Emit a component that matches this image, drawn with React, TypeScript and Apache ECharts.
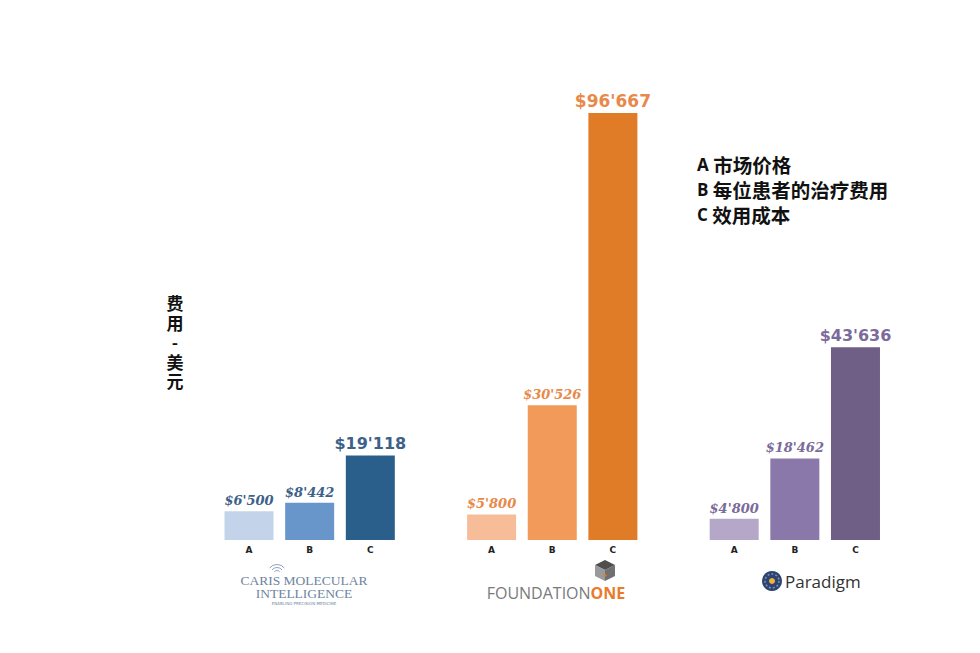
import React, { useEffect, useRef } from 'react';
import * as echarts from 'echarts';

// categories: three groups of A/B/C with empty gap slots between them
const categories = ['A', 'B', 'C', '', 'A', 'B', 'C', '', 'A', 'B', 'C'];
const carisValues = [6500, 8442, 19118];
const foundationValues = [5800, 30526, 96667];
const paradigmValues = [4800, 18462, 43636];

const carisColors = ['#c3d4ea', '#6896cb', '#2b5f8b'];
const foundationColors = ['#f7bd98', '#f19a5a', '#e07b27'];
const paradigmColors = ['#b4a7c8', '#8b78aa', '#6f5f87'];
const labelColors = ['#3d6189', '#e8894a', '#7a6b9a'];
const bigLabelSizes = [16, 17, 16];

const legendKeys = ['A', 'B', 'C'];
const legendNames = ['市场价格', '每位患者的治疗费用', '效用成本'];
const yTitle = '费用-美元';

const fmt = (v: number) => `$${Math.floor(v / 1000)}'${String(v % 1000).padStart(3, '0')}`;

const buildItems = (values: number[], colors: string[], labelColor: string, bigSize: number) =>
  values.map((v, i) => ({
    value: v,
    itemStyle: { color: colors[i] },
    label: i === 2
      ? { color: labelColor, fontSize: bigSize, fontWeight: 'bold', fontFamily: 'Verdana, DejaVu Sans, sans-serif' }
      : { color: labelColor, fontSize: 13, fontWeight: 'bold', fontStyle: 'italic', fontFamily: 'DejaVu Serif, serif' },
  }));

const App: React.FC = () => {
  const chartRef = useRef<HTMLDivElement>(null);

  useEffect(() => {
    if (!chartRef.current) return;
    const chart = echarts.init(chartRef.current, undefined, { renderer: 'svg' });

    const data = [
      ...buildItems(carisValues, carisColors, labelColors[0], bigLabelSizes[0]),
      '-',
      ...buildItems(foundationValues, foundationColors, labelColors[1], bigLabelSizes[1]),
      '-',
      ...buildItems(paradigmValues, paradigmColors, labelColors[2], bigLabelSizes[2]),
    ];

    const legendText = legendKeys.map((k, i) => `{k|${k}}{t| ${legendNames[i]}}`).join('\n');
    const titleText = yTitle.split('').map((c) => `{c|${c}}`).join('\n');

    const wave = (r: number) => ({
      type: 'arc',
      shape: { cx: 277, cy: 574, r, startAngle: Math.PI * 1.22, endAngle: Math.PI * 1.78 },
      style: { stroke: '#8ea4bc', lineWidth: 1, fill: 'none' },
    });

    const logoText = (text: string, y: number, size: number) => ({
      type: 'text',
      x: 304,
      y,
      style: {
        text,
        fontSize: size,
        fill: '#6c85a0',
        align: 'center',
        verticalAlign: 'middle',
        fontFamily: size > 6 ? 'Liberation Serif, DejaVu Serif, serif' : 'DejaVu Sans, sans-serif',
      },
    });

    chart.setOption({
      animation: false,
      grid: { left: 218.7, right: 94.2, top: 98.3, bottom: 113 },
      xAxis: {
        type: 'category',
        data: categories,
        axisLine: { show: false },
        axisTick: { show: false },
        axisLabel: {
          margin: 5,
          fontSize: 9,
          fontWeight: 'bold',
          color: '#222',
          fontFamily: 'DejaVu Sans, sans-serif',
        },
      },
      yAxis: {
        type: 'value',
        min: 0,
        max: 100000,
        show: false,
      },
      series: [
        {
          type: 'bar',
          barWidth: 49,
          data,
          label: {
            show: true,
            position: 'top',
            distance: 4,
            formatter: (p: any) => fmt(p.value),
          },
        },
      ],
      graphic: [
        // y-axis title, one character per line
        {
          type: 'text',
          x: 175,
          y: 293,
          style: {
            text: titleText,
            align: 'center',
            rich: {
              c: { fontSize: 17, lineHeight: 19.5, fontWeight: 'bold', fill: '#111', align: 'center', fontFamily: 'Noto Sans CJK SC, sans-serif' },
            },
          },
        },
        {
          type: 'text',
          x: 697,
          y: 151.5,
          style: {
            text: legendText,
            rich: {
              k: { fontSize: 17, lineHeight: 25, fontWeight: 'bold', fontFamily: 'Open Sans, DejaVu Sans, sans-serif', fill: '#111' },
              t: { fontSize: 19.5, lineHeight: 25, fontWeight: 'bold', fontFamily: 'Noto Sans CJK SC, sans-serif', fill: '#111' },
            },
          },
        },
        // Caris logo
        wave(3.5),
        wave(6.5),
        wave(9.5),
        logoText('CARIS MOLECULAR', 580, 13.5),
        logoText('INTELLIGENCE', 593, 13.5),
        logoText('ENABLING PRECISION MEDICINE', 603, 4),
        // FoundationOne logo
        { type: 'polygon', shape: { points: [[605, 560], [615, 565], [605, 570], [595, 565]] }, style: { fill: '#4e4e4e' } },
        { type: 'polygon', shape: { points: [[595, 565], [605, 570], [605, 581], [595, 576]] }, style: { fill: '#9a9a9a' } },
        { type: 'polygon', shape: { points: [[605, 570], [615, 565], [615, 576], [605, 581]] }, style: { fill: '#707070' } },
        { type: 'polygon', shape: { points: [[603, 575], [605, 574], [607, 575], [605, 577]] }, style: { fill: '#e07b27' } },
        {
          type: 'text',
          x: 556,
          y: 593,
          style: {
            text: '{f|FOUNDATION}{o|ONE}',
            align: 'center',
            verticalAlign: 'middle',
            rich: {
              f: { fontSize: 16, fill: '#7a7a7a', fontFamily: 'Open Sans, DejaVu Sans, sans-serif' },
              o: { fontSize: 16, fill: '#e97b2a', fontWeight: 'bold', fontFamily: 'Open Sans, DejaVu Sans, sans-serif' },
            },
          },
        },
        // Paradigm logo
        { type: 'circle', shape: { cx: 772, cy: 581, r: 10 }, style: { fill: '#2d4370' } },
        { type: 'circle', shape: { cx: 772, cy: 581, r: 7 }, style: { fill: 'none', stroke: '#7f93b8', lineWidth: 1.5, lineDash: [2, 2] } },
        { type: 'circle', shape: { cx: 772, cy: 581, r: 3 }, style: { fill: '#f2b33a' } },
        {
          type: 'text',
          x: 785,
          y: 581,
          style: {
            text: 'Paradigm',
            fontSize: 17,
            fill: '#333',
            verticalAlign: 'middle',
            fontFamily: 'Open Sans, DejaVu Sans, sans-serif',
          },
        },
      ],
    });

    return () => chart.dispose();
  }, []);

  return (
    <div
      ref={chartRef}
      style={{ position: 'absolute', left: 0, top: 0, width: 980, height: 653, background: '#fff' }}
    />
  );
};

export default App;
